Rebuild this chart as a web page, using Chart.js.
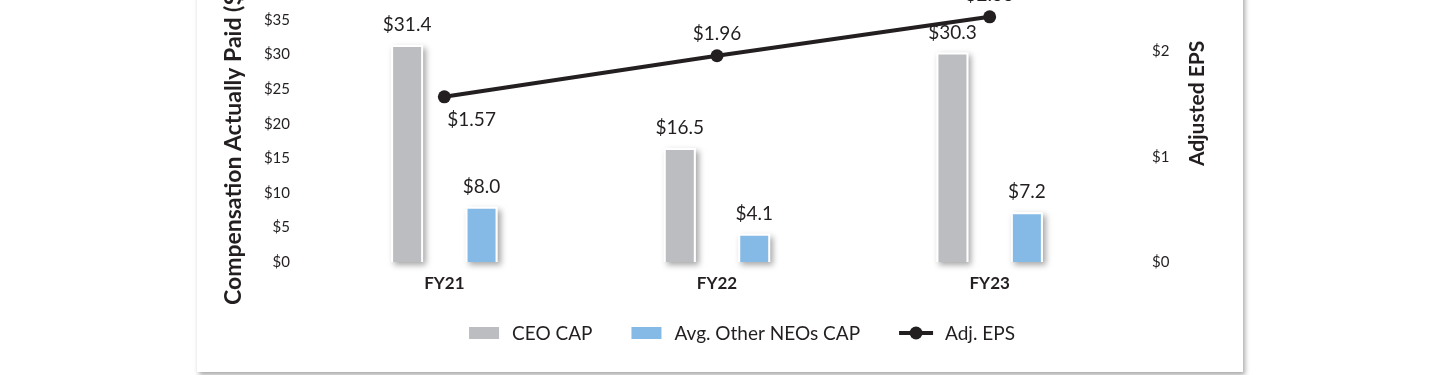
<!DOCTYPE html>
<html>
<head>
<meta charset="utf-8">
<script src="https://cdn.jsdelivr.net/npm/chart.js@4.4.1/dist/chart.umd.min.js"></script>
<style>
  html, body { margin: 0; padding: 0; background: #fff; width: 1440px; height: 375px; overflow: hidden; }
  #card { position: absolute; left: 197px; top: -40px; width: 1046px; height: 412px; background: #fff;
          box-shadow: 2px 3px 5px rgba(0,0,0,0.35); }
  #card canvas { display: block; }
</style>
</head>
<body>
<div id="card"><canvas id="capChart" width="1046" height="412"></canvas></div>
<script>
// chart data
const categorias = ['FY21', 'FY22', 'FY23'];
const ceoCap = [31.4, 16.5, 30.3];
const neoCap = [8.0, 4.1, 7.2];
const adjEps = [1.57, 1.96, 2.33];
const capTicks = [0, 5, 10, 15, 20, 25, 30, 35];
const epsTicks = [0, 1, 2];

const TEXT = '#231F20';
const FONT = 'Lato';

document.addEventListener('DOMContentLoaded', () => {
  grafico();
});

// soft shadow behind every bar, drawn before the bars themselves
const barShadow = {
  id: 'barShadow',
  beforeDatasetsDraw(chart) {
    const ctx = chart.ctx;
    chart.data.datasets.forEach((ds, i) => {
      if (ds.type !== 'bar') return;
      chart.getDatasetMeta(i).data.forEach(bar => {
        const p = bar.getProps(['x', 'y', 'base', 'width'], true);
        ctx.save();
        ctx.shadowColor = 'rgba(0,0,0,0.35)';
        ctx.shadowBlur = 6;
        ctx.shadowOffsetX = 3;
        ctx.shadowOffsetY = 3;
        ctx.fillStyle = '#fff';
        ctx.fillRect(p.x - p.width / 2, p.y, p.width, p.base - p.y);
        ctx.restore();
      });
    });
  }
};

// value labels over bars and next to the EPS points
const valueLabels = {
  id: 'valueLabels',
  afterDatasetsDraw(chart, args, opts) {
    const ctx = chart.ctx;
    ctx.save();
    ctx.fillStyle = TEXT;
    ctx.font = '19px ' + FONT;
    ctx.textBaseline = 'middle';
    chart.data.datasets.forEach((ds, i) => {
      const meta = chart.getDatasetMeta(i);
      meta.data.forEach((el, j) => {
        const v = ds.data[j];
        if (ds.type === 'bar') {
          ctx.textAlign = 'center';
          ctx.fillText('$' + v.toFixed(1), el.x, el.y - 20);
        } else {
          if (opts.epsPlace[j] === 'below') {
            ctx.textAlign = 'left';
            ctx.fillText('$' + v.toFixed(2), el.x + 3, el.y + 23);
          } else {
            ctx.textAlign = 'center';
            ctx.fillText('$' + v.toFixed(2), el.x, el.y - 22);
          }
        }
      });
    });
    ctx.restore();
  }
};

// rotated axis titles and the legend row at the bottom
const titlesLegend = {
  id: 'titlesLegend',
  afterDraw(chart) {
    const ctx = chart.ctx;
    ctx.save();
    ctx.fillStyle = TEXT;
    ctx.textBaseline = 'middle';
    ctx.textAlign = 'left';

    ctx.save();
    ctx.font = 'bold 23px ' + FONT;
    ctx.translate(37, 345);
    ctx.rotate(-Math.PI / 2);
    ctx.fillText('Compensation Actually Paid ($ in millions)', 0, 0);
    ctx.restore();

    ctx.save();
    ctx.font = 'bold 21px ' + FONT;
    ctx.translate(1000, 206);
    ctx.rotate(-Math.PI / 2);
    ctx.fillText('Adjusted EPS', 0, 0);
    ctx.restore();

    // legend: bars first, then the line
    ctx.font = '19px ' + FONT;
    const sets = chart.data.datasets.filter(ds => ds.type === 'bar')
      .concat(chart.data.datasets.filter(ds => ds.type === 'line'));
    const items = sets.map(ds => ({
      text: ds.label, color: ds.backgroundColor, line: ds.type === 'line'
    }));
    const widths = items.map(it => (it.line ? 34 + 12 : 30 + 13) + ctx.measureText(it.text).width);
    const total = widths.reduce((a, b) => a + b, 0) + 39 * (items.length - 1);
    let x = chart.width / 2 - total / 2 + 22;
    const y = chart.height - 39;
    items.forEach((it, k) => {
      if (it.line) {
        ctx.strokeStyle = TEXT;
        ctx.lineWidth = 4;
        ctx.beginPath();
        ctx.moveTo(x, y);
        ctx.lineTo(x + 34, y);
        ctx.stroke();
        ctx.beginPath();
        ctx.arc(x + 17, y, 6.5, 0, Math.PI * 2);
        ctx.fillStyle = TEXT;
        ctx.fill();
        ctx.fillText(it.text, x + 46, y + 1);
      } else {
        ctx.fillStyle = it.color;
        ctx.fillRect(x, y - 6, 30, 12);
        ctx.fillStyle = TEXT;
        ctx.fillText(it.text, x + 43, y + 1);
      }
      x += widths[k] + 39;
    });
    ctx.restore();
  }
};

function grafico() {
  const ctx = document.getElementById('capChart').getContext('2d');

  window.myChart = new Chart(ctx, {
    data: {
      labels: categorias,
      datasets: [
        {
          type: 'line',
          label: 'Adj. EPS',
          data: adjEps,
          yAxisID: 'y1',
          order: 0,
          borderColor: TEXT,
          backgroundColor: TEXT,
          borderWidth: 4,
          pointRadius: 6.5,
          pointHoverRadius: 6.5,
          pointBackgroundColor: TEXT,
          pointBorderWidth: 0,
          tension: 0,
          clip: false
        },
        {
          type: 'bar',
          label: 'CEO CAP',
          data: ceoCap,
          yAxisID: 'y',
          order: 1,
          backgroundColor: '#BCBDC0',
          borderColor: '#fff',
          borderWidth: 2,
          categoryPercentage: 0.546,
          barPercentage: 0.43
        },
        {
          type: 'bar',
          label: 'Avg. Other NEOs CAP',
          data: neoCap,
          yAxisID: 'y',
          order: 1,
          backgroundColor: '#85B9E6',
          borderColor: '#fff',
          borderWidth: 2,
          categoryPercentage: 0.546,
          barPercentage: 0.43
        }
      ]
    },
    options: {
      responsive: false,
      devicePixelRatio: 1,
      animation: false,
      layout: { padding: { top: 60, left: 0, right: 0, bottom: 0 } },
      scales: {
        x: {
          grid: { display: false, drawTicks: false },
          border: { display: false },
          ticks: { padding: 11, color: TEXT, font: { family: FONT, size: 17, weight: 'bold' } },
          afterFit: (scale) => { scale.height = 110; }
        },
        y: {
          position: 'left',
          min: 0,
          max: 35,
          grid: { display: false, drawTicks: false },
          border: { display: false },
          afterBuildTicks: (scale) => { scale.ticks = capTicks.map(v => ({ value: v })); },
          ticks: {
            padding: 18,
            color: TEXT,
            font: { family: FONT, size: 15 },
            callback: (v) => '$' + v
          },
          afterFit: (scale) => { scale.width = 111; }
        },
        y1: {
          position: 'right',
          min: 0,
          max: 2.3,
          grid: { display: false, drawTicks: false },
          border: { display: false },
          afterBuildTicks: (scale) => { scale.ticks = epsTicks.map(v => ({ value: v })); },
          ticks: {
            padding: 26,
            color: TEXT,
            font: { family: FONT, size: 15 },
            callback: (v) => '$' + v
          },
          afterFit: (scale) => { scale.width = 117; }
        }
      },
      plugins: {
        legend: { display: false },
        tooltip: { enabled: false },
        valueLabels: { epsPlace: ['below', 'above', 'above'] }
      }
    },
    plugins: [barShadow, valueLabels, titlesLegend]
  });
}
</script>
</body>
</html>
